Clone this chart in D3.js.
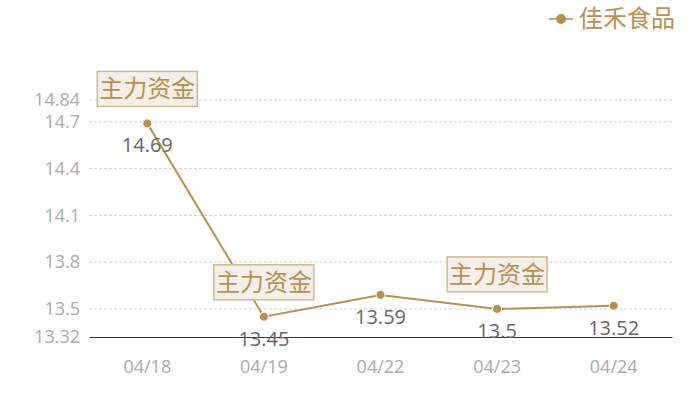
<!DOCTYPE html>
<html>
<head>
<meta charset="utf-8">
<script src="https://cdn.jsdelivr.net/npm/d3@7"></script>
<style>
  body { margin: 0; background: #fff; }
  svg { font-family: "Open Sans", "Noto Sans CJK SC", sans-serif; }
</style>
</head>
<body>
<svg id="chart"></svg>
<script>
const dates = ['04/18', '04/19', '04/22', '04/23', '04/24'];
const prices = [14.69, 13.45, 13.59, 13.5, 13.52];
const yTicks = [13.32, 13.5, 13.8, 14.1, 14.4, 14.7, 14.84];
const flagDates = ['04/18', '04/19', '04/23'];
const flagText = '主力资金';
const seriesName = '佳禾食品';

const width = 700, height = 400;
const margin = { top: 100, right: 28, bottom: 63, left: 89 };
const innerW = width - margin.left - margin.right;
const innerH = height - margin.top - margin.bottom;
const gold = '#b8914f';

const svg = d3.select('#chart').attr('width', width).attr('height', height);
const g = svg.append('g').attr('transform', `translate(${margin.left},${margin.top})`);

const x = d3.scaleBand().domain(dates).range([0, innerW]);
const y = d3.scaleLinear().domain([13.32, 14.84]).range([innerH, 0]);
const cx = d => x(d) + x.bandwidth() / 2;

// grid lines
g.selectAll('.grid')
  .data(yTicks.slice(1))
  .enter().append('line')
  .attr('x1', 0).attr('x2', innerW)
  .attr('y1', d => y(d)).attr('y2', d => y(d))
  .attr('stroke', '#d0d0d0')
  .attr('stroke-dasharray', '3,2');

// y axis labels
const yAxis = g.append('g')
  .call(d3.axisLeft(y).tickValues(yTicks).tickSize(0).tickPadding(9).tickFormat(d => d));
yAxis.select('.domain').remove();
yAxis.selectAll('text').attr('fill', '#aaa').style('font-size', '18px').attr('font-family', '"Open Sans", sans-serif');

// x axis
const xAxis = g.append('g')
  .attr('transform', `translate(0,${innerH})`)
  .call(d3.axisBottom(x).tickSize(0).tickPadding(23));
xAxis.select('.domain').attr('stroke', '#333');
xAxis.selectAll('text').attr('fill', '#aaa').style('font-size', '18px').attr('font-family', '"Open Sans", sans-serif');

// line
g.append('path')
  .datum(prices)
  .attr('fill', 'none')
  .attr('stroke', gold)
  .attr('stroke-width', 2)
  .attr('d', d3.line().x((d, i) => cx(dates[i])).y(d => y(d)));

g.selectAll('.dot')
  .data(prices)
  .enter().append('circle')
  .attr('cx', (d, i) => cx(dates[i]))
  .attr('cy', d => y(d))
  .attr('r', 4.5)
  .attr('fill', gold)
  .attr('stroke', '#fff')
  .attr('stroke-width', 1);

// value labels
g.selectAll('.val')
  .data(prices)
  .enter().append('text')
  .attr('x', (d, i) => cx(dates[i]))
  .attr('y', d => y(d) + 29)
  .attr('text-anchor', 'middle')
  .attr('fill', '#666')
  .style('font-size', '20px')
  .text(d => d);

// flags
const flags = g.selectAll('.flag')
  .data(flagDates)
  .enter().append('g')
  .attr('transform', d => `translate(${cx(d)},${y(prices[dates.indexOf(d)]) - 17})`);
flags.append('rect')
  .attr('x', -50).attr('y', -35)
  .attr('width', 100).attr('height', 35)
  .attr('fill', '#f4efe8')
  .attr('stroke', '#d4b98c')
  .attr('stroke-width', 1.5);
flags.append('text')
  .attr('y', -9)
  .attr('text-anchor', 'middle')
  .attr('fill', gold)
  .attr('font-family', '"Noto Sans CJK SC", sans-serif')
  .style('font-size', '24px')
  .text(flagText);

// legend
const leg = svg.append('g').attr('transform', 'translate(549,19)');
leg.append('line').attr('x1', 0).attr('x2', 24).attr('stroke', gold).attr('stroke-width', 1.5);
leg.append('circle').attr('cx', 12).attr('r', 5).attr('fill', gold);
leg.append('text')
  .attr('x', 30).attr('y', 8)
  .attr('fill', gold)
  .attr('font-family', '"Noto Sans CJK SC", sans-serif')
  .style('font-size', '24px')
  .text(seriesName);
</script>
</body>
</html>
